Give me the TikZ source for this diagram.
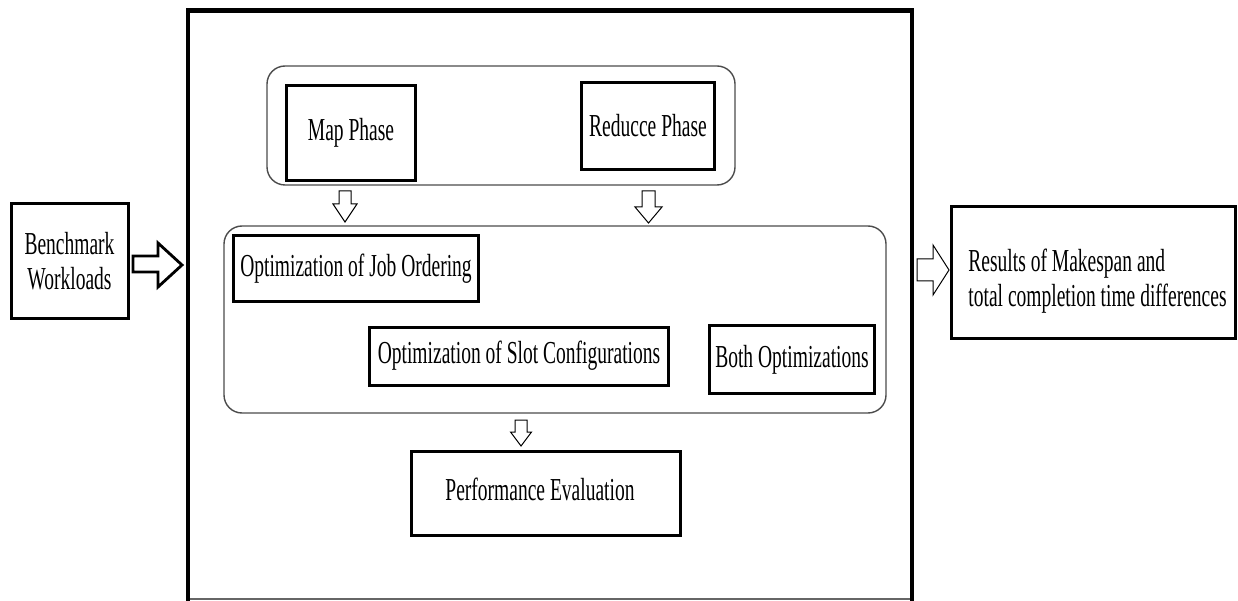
\documentclass[tikz,border=0pt]{standalone}
\usepackage{fontspec}
\setmainfont{Liberation Serif}[FakeStretch=0.61]
\begin{document}
\begin{tikzpicture}[x=1pt,y=-1pt,
  box/.style={draw=black, line width=3pt, inner sep=0pt, align=center, font=\fontsize{32}{35}\selectfont},
  container/.style={draw=black!70, line width=1.4pt, rounded corners=18pt},
  harrow/.style={draw=black, line width=1pt, fill=white, line join=miter},
  bigarrow/.style={draw=black, line width=2.8pt, fill=white, line join=miter}]
\useasboundingbox (0,0) rectangle (1238,601);
\newcommand{\hollowdown}[6]{\draw[harrow] ({#1-#5},#2) -- ({#1+#5},#2) -- ({#1+#5},#3) -- ({#1+#6},#3) -- (#1,#4) -- ({#1-#6},#3) -- ({#1-#5},#3) -- cycle;}
% outer frame
\draw[black!60, line width=1.5pt] (188,599) -- (912,599);
\draw[line width=4pt] (188,601) -- (188,11) -- (912,11) -- (912,601);
\draw[line width=5pt] (186,11) -- (914,11);
% containers
\node[container, minimum width=468pt, minimum height=119pt] (phases) at (501,125.5) {};
\node[container, minimum width=662pt, minimum height=187pt] (opts) at (555,319.5) {};
% boxes
\node[box, minimum width=117pt, minimum height=115pt] (bench) at (69.5,261) {Benchmark\\Workloads};
\node[box, minimum width=129pt, minimum height=95pt] (map) at (351,133) {\raisebox{4pt}{Map Phase}};
\node[box, minimum width=133pt, minimum height=87pt] (reduce) at (648,126) {Reducce Phase};
\node[box, minimum width=245pt, minimum height=66pt] (job) at (356,268.5) {Optimization of Job Ordering};
\node[box, minimum width=299pt, minimum height=58pt] (slot) at (519,356) {Optimization of Slot Configurations};
\node[box, minimum width=165pt, minimum height=68pt] (both) at (792,359.5) {Both Optimizations};
\node[box, minimum width=269pt, minimum height=84pt] (perf) at (546,493.5) {\raisebox{9pt}{\hspace{-12pt}Performance Evaluation}};
\node[box, minimum width=284pt, minimum height=132pt, align=left] (res) at (1093.5,272.5) {\rule{0pt}{40pt}\hspace{8pt}Results of Makespan and\\\hspace{8pt}total completion time differences};
% arrows
\draw[bigarrow] (133,256) -- (158,256) -- (158,243) -- (182,265) -- (158,287) -- (158,272) -- (133,272) -- cycle;
\draw[harrow] (917,259) -- (933,259) -- (933,245) -- (949,270) -- (933,295) -- (933,281) -- (917,281) -- cycle;
\hollowdown{345}{191}{204}{222}{6}{12}
\hollowdown{648.5}{191}{207}{223}{6.5}{13.5}
\hollowdown{521}{420}{432}{446}{6}{10.5}
\end{tikzpicture}
\end{document}
